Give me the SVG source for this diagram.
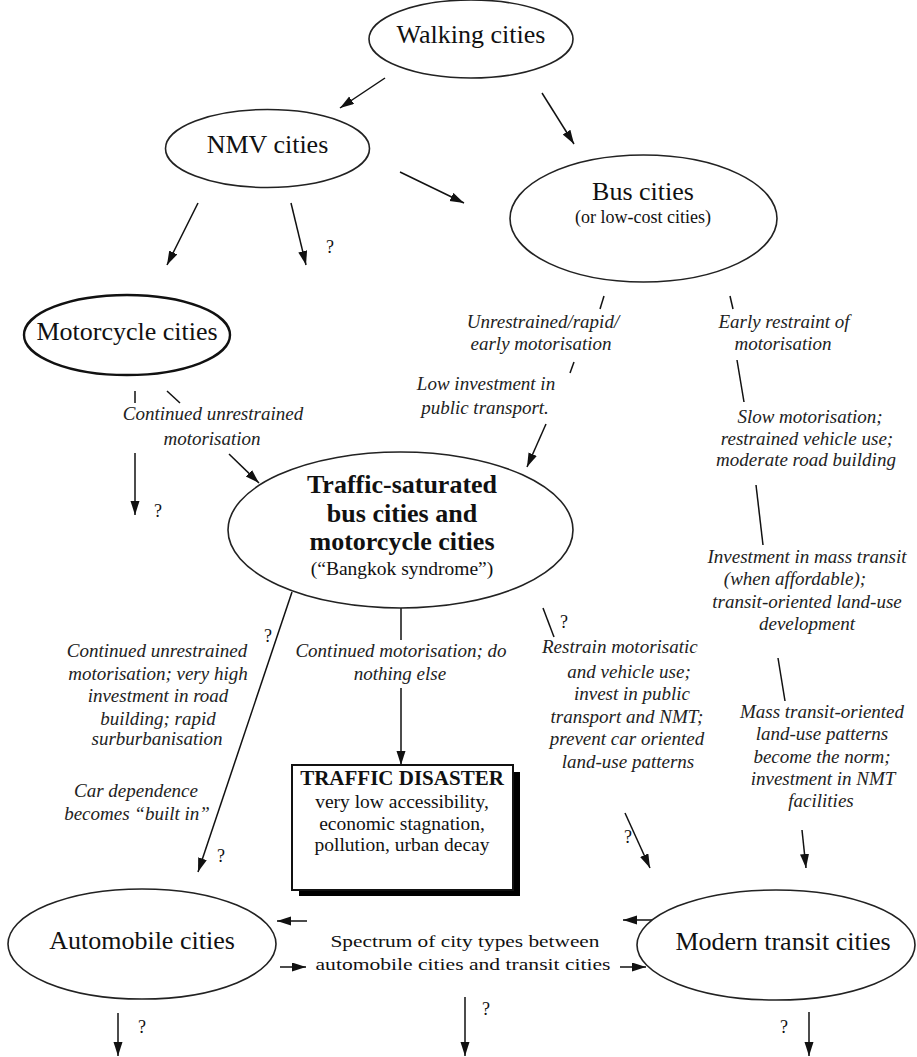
<svg xmlns="http://www.w3.org/2000/svg" width="917" height="1057" viewBox="0 0 917 1057">
<defs>
<marker id="ah" markerUnits="userSpaceOnUse" markerWidth="16" markerHeight="10" refX="14" refY="4.5" orient="auto">
<path d="M0,0 L14,4.5 L0,9 Z" fill="#111"/>
</marker>
</defs>
<style>
.bg{fill:#fff}
.el{fill:#fff;stroke:#222;stroke-width:1.6}
.elb{fill:#fff;stroke:#111;stroke-width:2.4}
.t{font-family:"Liberation Serif",serif;font-size:26px;fill:#111;text-anchor:middle}
.tb{font-family:"Liberation Serif",serif;font-size:26px;font-weight:bold;fill:#111;text-anchor:middle}
.s{font-family:"Liberation Serif",serif;font-size:19.5px;fill:#111;text-anchor:middle}
.i{font-family:"Liberation Serif",serif;font-size:19px;font-style:italic;fill:#222;text-anchor:middle}
.q{font-family:"Liberation Serif",serif;font-size:18px;fill:#111;text-anchor:middle}
.c{stroke:#111;stroke-width:1.5;fill:none}
.a{stroke:#111;stroke-width:1.5;fill:none;marker-end:url(#ah)}
</style>
<rect class="bg" x="0" y="0" width="917" height="1057"/>

<g id="connectors">
<line class="a" x1="385" y1="78" x2="340" y2="108"/>
<line class="a" x1="542" y1="93" x2="574" y2="144"/>
<line class="a" x1="198" y1="203" x2="167" y2="265"/>
<line class="a" x1="291" y1="203" x2="306" y2="265"/>
<line class="a" x1="400" y1="172" x2="464" y2="203"/>
<line class="c" x1="604" y1="296" x2="600" y2="309"/>
<line class="c" x1="574" y1="362" x2="570" y2="373"/>
<line class="a" x1="546" y1="424" x2="527" y2="467"/>
<line class="c" x1="730" y1="296" x2="733" y2="309"/>
<line class="c" x1="737" y1="360" x2="744" y2="402"/>
<line class="c" x1="756" y1="485" x2="763" y2="545"/>
<line class="c" x1="778" y1="658" x2="785" y2="701"/>
<line class="a" x1="802" y1="830" x2="806" y2="868"/>
<line class="c" x1="135" y1="391" x2="135" y2="403"/>
<line class="c" x1="167" y1="391" x2="180" y2="403"/>
<line class="a" x1="135" y1="453" x2="135" y2="515"/>
<line class="a" x1="229" y1="454" x2="259" y2="483"/>
<line class="a" x1="292" y1="592" x2="198" y2="872"/>
<line class="c" x1="401" y1="608" x2="401" y2="640"/>
<line class="a" x1="401" y1="688" x2="401" y2="765"/>
<line class="c" x1="543" y1="608" x2="554" y2="637"/>
<line class="a" x1="625" y1="813" x2="650" y2="868"/>
<line class="a" x1="307" y1="921" x2="277" y2="921"/>
<line class="a" x1="280" y1="967" x2="306" y2="967"/>
<line class="a" x1="655" y1="920" x2="623" y2="920"/>
<line class="a" x1="620" y1="967" x2="646" y2="967"/>
<line class="a" x1="118" y1="1013" x2="118" y2="1056"/>
<line class="a" x1="465" y1="997" x2="465" y2="1056"/>
<line class="a" x1="809" y1="1012" x2="809" y2="1056"/>
</g>

<g id="walking">
<ellipse class="el" cx="471" cy="39" rx="102" ry="39"/>
<text class="t" x="471" y="43">Walking cities</text>
</g>

<g id="nmv">
<ellipse class="el" cx="267.5" cy="148.5" rx="102" ry="39"/>
<text class="t" x="267.5" y="153">NMV cities</text>
<text class="q" x="330" y="253">?</text>
</g>

<g id="bus">
<ellipse class="el" cx="643.5" cy="218.5" rx="133.5" ry="63.5"/>
<text class="t" x="643" y="200">Bus cities</text>
<text class="s" x="643" y="223" style="font-size:18px">(or low-cost cities)</text>
</g>

<g id="bus-left-labels">
<text class="i" x="543" y="328">Unrestrained/rapid/</text>
<text class="i" x="541" y="350">early motorisation</text>
<text class="i" x="486" y="390">Low investment in</text>
<text class="i" x="485" y="414">public transport.</text>
</g>

<g id="bus-right-labels">
<text class="i" x="784" y="328">Early restraint of</text>
<text class="i" x="783" y="350">motorisation</text>
<text class="i" x="810" y="423">Slow motorisation;</text>
<text class="i" x="807" y="445">restrained vehicle use;</text>
<text class="i" x="806" y="466">moderate road building</text>
<text class="i" x="807" y="563">Investment in mass transit</text>
<text class="i" x="795" y="585">(when affordable);</text>
<text class="i" x="807" y="608">transit-oriented land-use</text>
<text class="i" x="807" y="630">development</text>
<text class="i" x="822" y="718">Mass transit-oriented</text>
<text class="i" x="822" y="740">land-use patterns</text>
<text class="i" x="822" y="763">become the norm;</text>
<text class="i" x="823" y="785">investment in NMT</text>
<text class="i" x="821" y="807">facilities</text>
</g>

<g id="motorcycle">
<ellipse class="elb" cx="127" cy="335" rx="103" ry="40"/>
<text class="t" x="127" y="340">Motorcycle cities</text>
<text class="i" x="213" y="420">Continued unrestrained</text>
<text class="i" x="212" y="445">motorisation</text>
<text class="q" x="158" y="517">?</text>
</g>

<g id="traffic-saturated">
<ellipse class="el" cx="400.5" cy="530" rx="172.5" ry="78"/>
<text class="tb" x="402" y="493">Traffic-saturated</text>
<text class="tb" x="402" y="522">bus cities and</text>
<text class="tb" x="402" y="550">motorcycle cities</text>
<text class="s" x="402" y="575">(“Bangkok syndrome”)</text>
</g>

<g id="left-path-labels">
<text class="q" x="268" y="642">?</text>
<text class="i" x="157" y="657">Continued unrestrained</text>
<text class="i" x="158" y="680">motorisation;  very high</text>
<text class="i" x="158" y="702">investment in road</text>
<text class="i" x="158" y="725">building;  rapid</text>
<text class="i" x="157" y="745">surburbanisation</text>
<text class="i" x="136" y="797">Car dependence</text>
<text class="i" x="137" y="820">becomes “built in”</text>
<text class="q" x="221" y="862">?</text>
</g>

<g id="middle-path-labels">
<text class="i" x="401" y="657">Continued motorisation; do</text>
<text class="i" x="400" y="680">nothing else</text>
</g>

<g id="right-path-labels">
<text class="q" x="564" y="628">?</text>
<text class="i" x="542" y="653" style="text-anchor:start">Restrain motorisatic</text>
<text class="i" x="629" y="678">and vehicle use;</text>
<text class="i" x="632" y="700">invest in public</text>
<text class="i" x="627" y="723">transport and NMT;</text>
<text class="i" x="627" y="745">prevent car oriented</text>
<text class="i" x="628" y="768">land-use patterns</text>
<text class="q" x="628" y="843">?</text>
</g>

<g id="traffic-disaster">
<rect x="299" y="772" width="221" height="124" fill="#000"/>
<rect x="292" y="765" width="221" height="125" fill="#fff" stroke="#111" stroke-width="2"/>
<text class="tb" x="402" y="785" style="font-size:21px">TRAFFIC DISASTER</text>
<text class="s" x="402" y="808">very low accessibility,</text>
<text class="s" x="402" y="830">economic stagnation,</text>
<text class="s" x="402" y="851">pollution, urban decay</text>
</g>

<g id="automobile">
<ellipse class="el" cx="142" cy="944" rx="134" ry="55"/>
<text class="t" x="142" y="949">Automobile cities</text>
<text class="q" x="142" y="1033">?</text>
</g>

<g id="spectrum">
<text class="s" x="465" y="947" style="font-size:17px" textLength="269" lengthAdjust="spacingAndGlyphs">Spectrum of city types between</text>
<text class="s" x="463" y="970" style="font-size:17px" textLength="295" lengthAdjust="spacingAndGlyphs">automobile cities and transit cities</text>
<text class="q" x="486" y="1015">?</text>
</g>

<g id="modern-transit">
<ellipse class="el" cx="776" cy="945" rx="139" ry="55"/>
<text class="t" x="783" y="950">Modern transit cities</text>
<text class="q" x="784" y="1033">?</text>
</g>
</svg>
